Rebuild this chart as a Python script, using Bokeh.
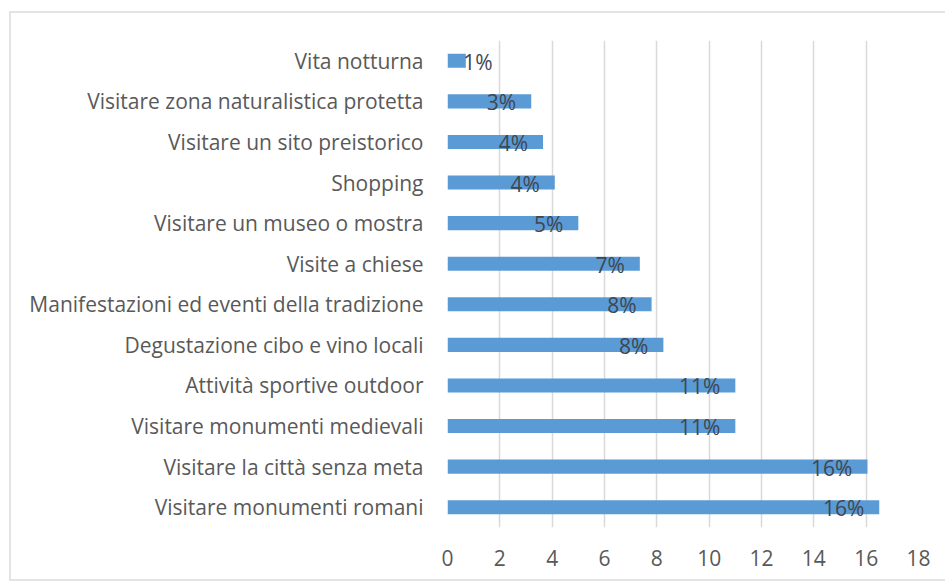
from bokeh.plotting import figure
from bokeh.models import FactorRange, FixedTicker, ColumnDataSource
from bokeh.core.properties import value
from bokeh.embed import file_html
from bokeh.resources import INLINE

# Data (top to bottom as in the reference)
categories = [
    "Vita notturna",
    "Visitare zona naturalistica protetta",
    "Visitare un sito preistorico",
    "Shopping",
    "Visitare un museo o mostra",
    "Visite a chiese",
    "Manifestazioni ed eventi della tradizione",
    "Degustazione cibo e vino locali",
    "Attività sportive outdoor",
    "Visitare monumenti medievali",
    "Visitare la città senza meta",
    "Visitare monumenti romani",
]
values = [0.7, 3.2, 3.65, 4.1, 5.0, 7.35, 7.8, 8.25, 11.0, 11.0, 16.05, 16.5]
labels = ["1%", "3%", "4%", "4%", "5%", "7%", "8%", "8%", "11%", "11%", "16%", "16%"]
x_ticks = [0, 2, 4, 6, 8, 10, 12, 14, 16, 18]

FONT = "Open Sans"
FS = "21px"

src = ColumnDataSource(dict(
    cat=categories,
    val=values,
    lab=labels,
    lx=[max(v, 2.3) for v in values],
))

p = figure(
    width=945, height=583,
    y_range=FactorRange(*reversed(categories), range_padding=0),
    x_range=(0, 18),
    output_backend="svg", toolbar_location=None,
    min_border_left=447, min_border_right=27,
    min_border_top=40, min_border_bottom=56,
)

# light chart-area frame (left, top, bottom edges) painted behind a transparent border area
FRAME = "linear-gradient(#e4e4e4, #e4e4e4)"
p.border_fill_alpha = 0
p.styles = {
    "background": (f"{FRAME} 9px 11px / 2px 570px no-repeat, "
                   f"{FRAME} 9px 11px / 960px 2px no-repeat, "
                   f"{FRAME} 9px 579px / 960px 2px no-repeat, white"),
}

p.hbar(y="cat", right="val", left=0, height=0.345, source=src,
       fill_color="#5B9BD5", line_color=None)

p.text(x="lx", y="cat", text="lab", source=src,
       text_align="right", text_baseline="middle",
       x_offset=-15, y_offset=1,
       text_font=value(FONT), text_font_size=FS, text_color="#3f4650")

p.outline_line_color = None
p.background_fill_color = "white"

p.ygrid.grid_line_color = None
p.xgrid.grid_line_color = "#d9d9d9"
p.xgrid.grid_line_width = 1.5
p.xaxis.ticker = FixedTicker(ticks=x_ticks)

for ax in (p.xaxis[0], p.yaxis[0]):
    ax.axis_line_color = None
    ax.major_tick_line_color = None
    ax.minor_tick_line_color = None
    ax.major_tick_out = 0
    ax.major_tick_in = 0
    ax.major_label_text_font = FONT
    ax.major_label_text_font_size = FS
    ax.major_label_text_color = "#595959"

p.yaxis.major_label_standoff = 24
p.xaxis.major_label_standoff = 22

open("out.html", "w").write(file_html(p, INLINE))
